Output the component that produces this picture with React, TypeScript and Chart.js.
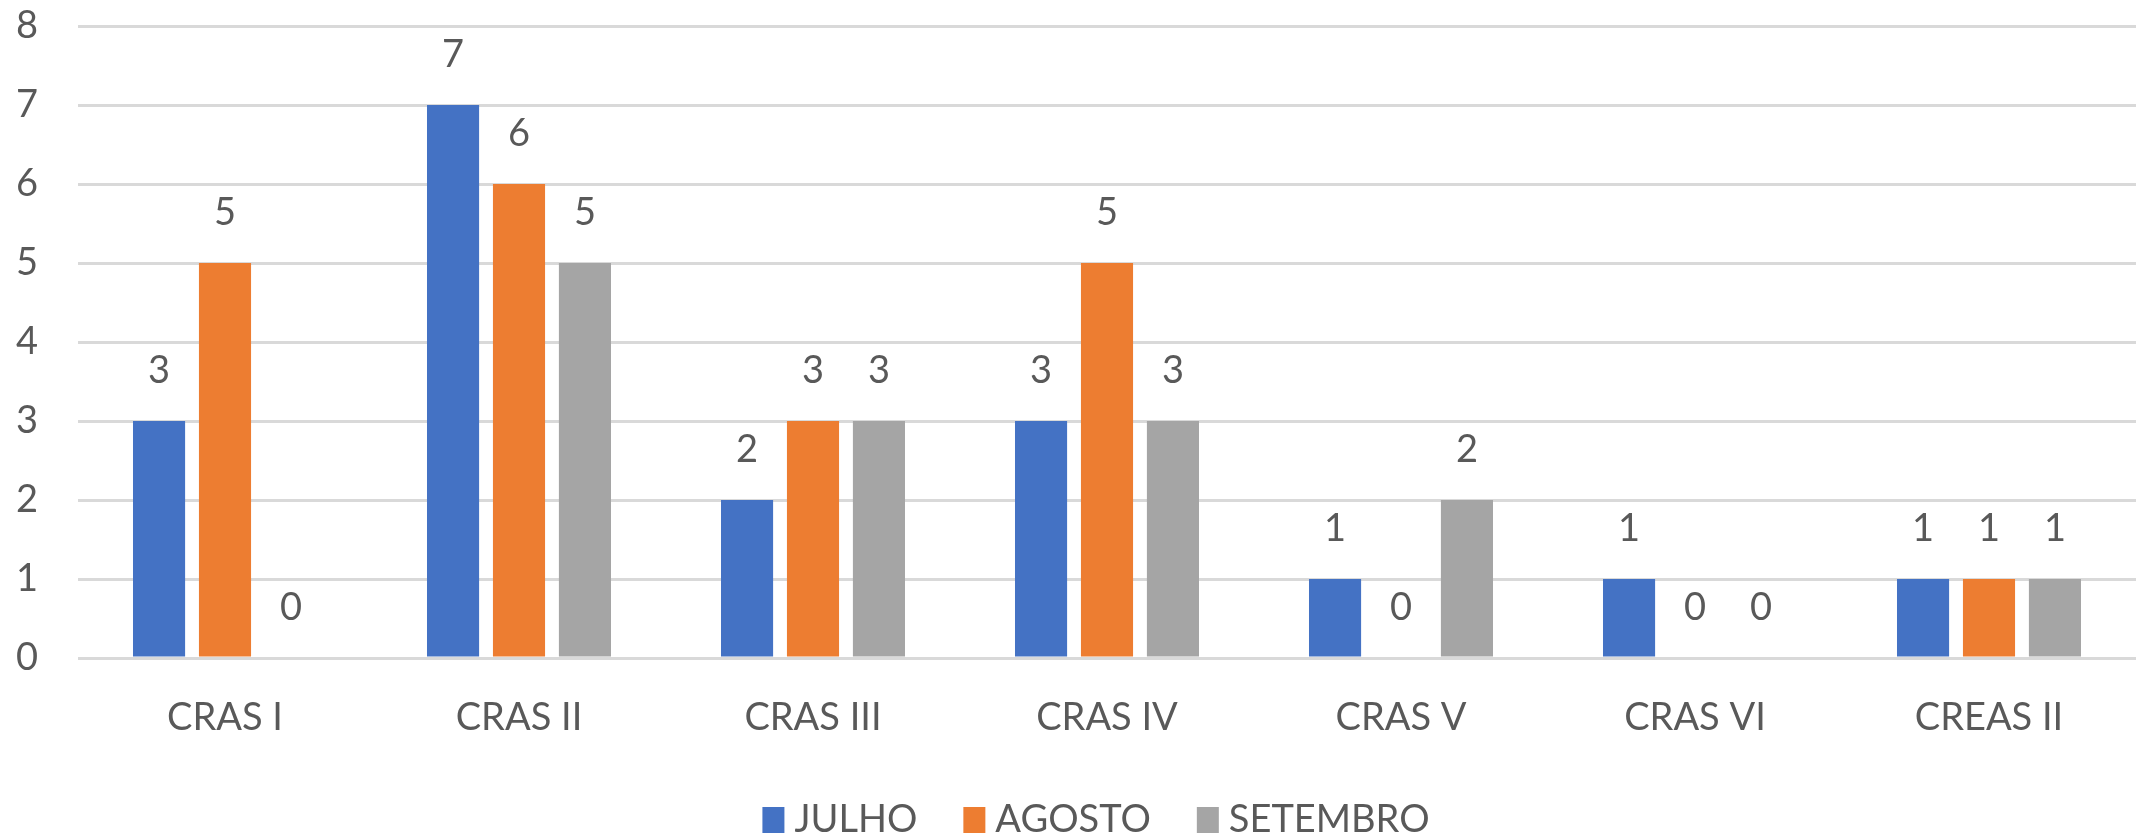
import React, { useEffect, useRef } from "react";
import { Chart, registerables } from "chart.js";

Chart.register(...registerables);

const categories = ["CRAS I", "CRAS II", "CRAS III", "CRAS IV", "CRAS V", "CRAS VI", "CREAS II"];
const julho = [3, 7, 2, 3, 1, 1, 1];
const agosto = [5, 6, 3, 5, 0, 0, 1];
const setembro = [0, 5, 3, 3, 2, 0, 1];
const yTicks = [0, 1, 2, 3, 4, 5, 6, 7, 8];

const FONT = "Lato, 'Open Sans', sans-serif";
const TEXT = "#595959";
const FS = 38;

const valueLabels = {
  id: "valueLabels",
  afterDatasetsDraw(chart: any) {
    const ctx = chart.ctx;
    ctx.save();
    ctx.font = `${FS}px ${FONT}`;
    ctx.fillStyle = TEXT;
    ctx.textAlign = "center";
    ctx.textBaseline = "middle";
    chart.data.datasets.forEach((ds: any, i: number) => {
      const meta = chart.getDatasetMeta(i);
      meta.data.forEach((el: any, j: number) => {
        ctx.fillText(String(ds.data[j]), el.x, el.y - 50);
      });
    });
    ctx.restore();
  },
};

const bottomLegend = {
  id: "bottomLegend",
  afterDraw(chart: any) {
    const ctx = chart.ctx;
    ctx.save();
    ctx.font = `${FS}px ${FONT}`;
    ctx.textBaseline = "middle";
    ctx.textAlign = "left";
    const boxW = 22, boxH = 26, gap = 10, itemGap = 46;
    const items = chart.data.datasets.map((ds: any) => ({
      label: ds.label,
      color: ds.backgroundColor,
      w: ctx.measureText(ds.label).width,
    }));
    const total = items.reduce((a: number, it: any) => a + boxW + gap + it.w, 0) + itemGap * (items.length - 1);
    let x = 1096 - total / 2;
    const cy = 820;
    items.forEach((it: any) => {
      ctx.fillStyle = it.color;
      ctx.fillRect(x, cy - boxH / 2, boxW, boxH);
      x += boxW + gap;
      ctx.fillStyle = TEXT;
      ctx.fillText(it.label, x, cy);
      x += it.w + itemGap;
    });
    ctx.restore();
  },
};

export default function App() {
  const ref = useRef<HTMLCanvasElement>(null);
  useEffect(() => {
    document.body.style.margin = "0";
    const chart = new Chart(ref.current!, {
      type: "bar",
      data: {
        labels: categories,
        datasets: [
          { label: "JULHO", data: julho, backgroundColor: "#4472C4" },
          { label: "AGOSTO", data: agosto, backgroundColor: "#ED7D31" },
          { label: "SETEMBRO", data: setembro, backgroundColor: "#A5A5A5" },
        ],
      },
      options: {
        animation: false,
        responsive: false,
        maintainAspectRatio: false,
        categoryPercentage: 0.673,
        barPercentage: 0.79,
        layout: { padding: { top: 26, right: 2, left: 16, bottom: 0 } },
        plugins: {
          tooltip: { enabled: false },
          legend: { display: false },
        },
        scales: {
          x: {
            grid: { display: false, drawTicks: false },
            border: { display: false },
            ticks: { font: { family: FONT, size: FS }, color: TEXT, padding: 37 },
            afterFit: (s: any) => { s.height = 181; },
          },
          y: {
            min: 0,
            max: 8,
            afterBuildTicks: (s: any) => { s.ticks = yTicks.map((v) => ({ value: v })); },
            grid: { color: "#D9D9D9", lineWidth: 3, drawTicks: false },
            border: { display: false },
            ticks: { font: { family: FONT, size: FS }, color: TEXT, padding: 0, crossAlign: "far" },
            afterFit: (s: any) => { s.width = 62; },
          },
        },
      },
      plugins: [valueLabels, bottomLegend],
    });
    return () => chart.destroy();
  }, []);
  return (
    <div style={{ position: "fixed", left: 0, top: 0, width: 2138, height: 839 }}>
      <canvas ref={ref} width={2138} height={839} />
    </div>
  );
}
